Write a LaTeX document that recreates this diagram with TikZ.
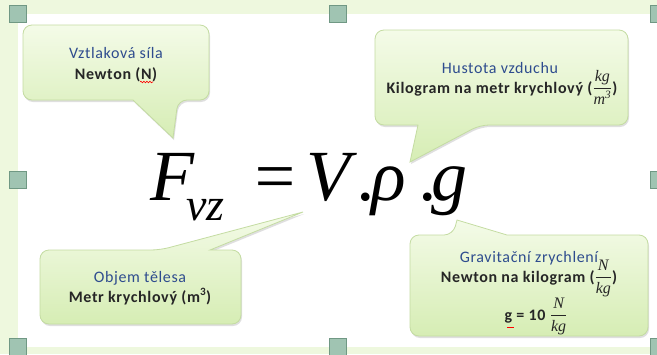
\documentclass[tikz,border=0pt]{standalone}
\usepackage{fontspec}
\usepackage{amsmath}
\setmainfont{Carlito}[LetterSpace=4]
\newfontfamily\formfont{Liberation Serif}
\usetikzlibrary{shadows, decorations.pathmorphing}

\definecolor{pagegreen}{RGB}{238, 248, 222}
\definecolor{handlefill}{RGB}{160, 196, 178}
\definecolor{handledraw}{RGB}{112, 152, 132}
\definecolor{bubbletop}{RGB}{244, 251, 232}
\definecolor{bubblebottom}{RGB}{214, 237, 180}
\definecolor{bubbleline}{RGB}{196, 220, 162}
\definecolor{titleblue}{RGB}{46, 76, 142}

\newcommand{\unitfrac}[2]{$\dfrac{\mbox{\mdseries\formfont\itshape #1}}{\mbox{\mdseries\formfont\itshape #2}}$}

\begin{document}
\begin{tikzpicture}[
        x=1pt, y=-1pt,
        handle/.style={rectangle, draw=handledraw, fill=handlefill, line width=1pt, minimum size=17pt, inner sep=0pt},
        bubble/.style={draw=bubbleline, line width=0.8pt, rounded corners=9pt, top color=bubbletop, bottom color=bubblebottom, drop shadow={shadow xshift=1pt, shadow yshift=-2pt, opacity=0.25, fill=black!50}},
        bubbletitle/.style={anchor=base, inner sep=0pt, text=titleblue, font=\fontsize{16}{19}\selectfont},
        bubbleunit/.style={anchor=base, inner sep=0pt, text=black!85, font=\fontsize{16}{19}\selectfont\bfseries},
        formula/.style={anchor=base west, inner sep=0pt, font=\formfont\itshape\fontsize{72}{80}\selectfont},
        squiggle/.style={draw=red, line width=0.6pt, decorate, decoration={snake, amplitude=0.8pt, segment length=3pt}}
    ]
        \useasboundingbox (0,0) rectangle (657,354);

        % Page and frame
        \fill[pagegreen] (0,0) rectangle (657,354);
        \fill[white] (18,14) rectangle (659,347);

        % Selection handles
        \foreach \hx/\hy [count=\i] in {18/14, 338/14, 659/14, 18/180, 659/180, 18/347, 338/347, 659/347}
            \node[handle] (handle\i) at (\hx,\hy) {};

        % Bubble 1: buoyant force
        \path[bubble] (23,25) -- (209,25) -- (209,100) -- (178,100) [sharp corners] -- (173,138) -- (133,100) [rounded corners=9pt] -- (23,100) -- cycle;
        \node[bubbletitle] (vztlak) at (116,58) {Vztlaková síla};
        \node[bubbleunit] (vztlakunit) at (116,79) {Newton (N)};
        \draw[squiggle] (140,82) -- (153,82);

        % Bubble 2: air density
        \path[bubble] (375,30) -- (628,30) -- (628,125) -- (480,125) [sharp corners] -- (410,162) -- (418,125) [rounded corners=9pt] -- (375,125) -- cycle;
        \node[bubbletitle] (hustota) at (500,73) {Hustota vzduchu};
        \node[bubbleunit] (hustotaunit) at (502,93) {Kilogram na metr krychlový (\unitfrac{kg}{m\textsuperscript{3}})};

        % Bubble 3: volume
        \path[bubble] (40,250) -- (160,250) [sharp corners] -- (303,212) -- (210,250) [rounded corners=9pt] -- (241,250) -- (241,324) -- (40,324) -- cycle;
        \node[bubbletitle] (objem) at (140,282) {Objem tělesa};
        \node[bubbleunit] (objemunit) at (140,302) {Metr krychlový (m\textsuperscript{3})};

        % Bubble 4: gravity
        \path[bubble] (410,235) -- (453,235) [sharp corners] -- (457,220) -- (507,235) [rounded corners=9pt] -- (648,235) -- (648,336) -- (410,336) -- cycle;
        \node[bubbletitle] (grav) at (529,262) {Gravitační zrychlení};
        \node[bubbleunit] (gravunit) at (529,282) {Newton na kilogram (\unitfrac{N}{kg})};
        \node[bubbleunit] (gravvalue) at (536,320) {g = 10 \unitfrac{N}{kg}};
        \draw[red, line width=0.8pt] (507,327) -- (514,327);

        % Formula
        \node[formula] (force) at (150,200) {F};
        \node[formula, font=\formfont\itshape\fontsize{46}{50}\selectfont] (forcesub) at (186,220) {vz};
        \node[formula] (equals) at (250,200) {=};
        \node[formula] (volume) at (306,200) {V};
        \node[formula] (dot1) at (358,200) {.};
        \node[formula] (rho) at (371,200) {ρ};
        \node[formula] (dot2) at (420,200) {.};
        \node[formula] (gacc) at (431,200) {g};
    \end{tikzpicture}
\end{document}
